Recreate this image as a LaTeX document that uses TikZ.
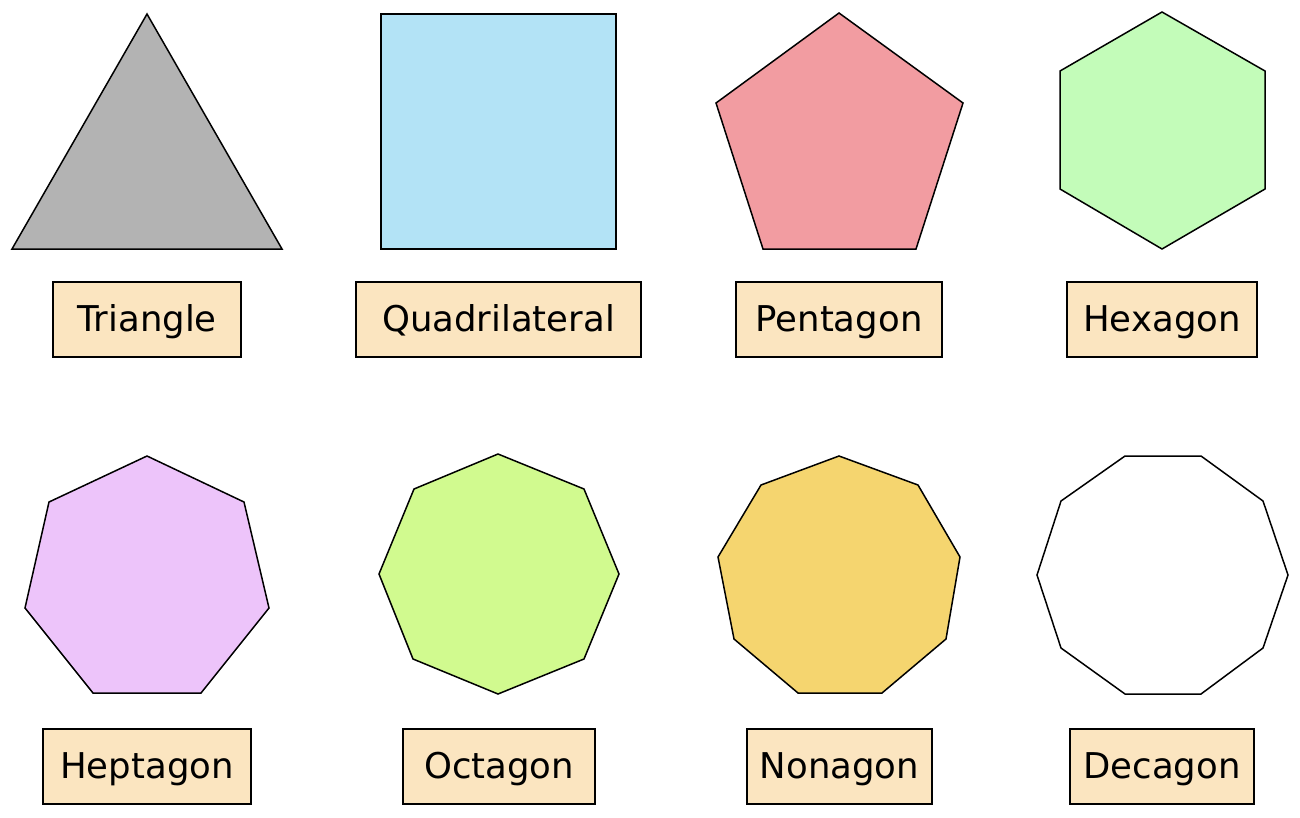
\documentclass[tikz,border=0pt]{standalone}
\usepackage{fontspec}
\setmainfont{DejaVu Sans}
\definecolor{cgray}{HTML}{B3B3B3}
\definecolor{cblue}{HTML}{B3E3F6}
\definecolor{cpink}{HTML}{F29CA1}
\definecolor{cgreen}{HTML}{C3FCB9}
\definecolor{clav}{HTML}{EDC4FA}
\definecolor{clime}{HTML}{D1FA8F}
\definecolor{cyel}{HTML}{F5D56F}
\definecolor{clab}{HTML}{FBE5C0}
\begin{document}
\begin{tikzpicture}[x=1pt,y=-1pt,
  shp/.style={draw=black,line width=1.5pt,line join=miter},
  lab/.style={draw=black,line width=1.5pt,fill=clab,inner sep=0pt,
    text height=24pt,text depth=0pt,minimum height=75pt,
    font=\fontsize{35.5}{40}\selectfont,anchor=center}]
\useasboundingbox (0,0) rectangle (1300,817);
% row 1 shapes
\draw[shp,fill=cgray] (147,14) -- (282,249) -- (12,249) -- cycle;
\draw[shp,fill=cblue] (381,14) rectangle (616,249);
\draw[shp,fill=cpink] (839,13) -- (963,103) -- (916,249) -- (763,249) -- (716,103) -- cycle;
\draw[shp,fill=cgreen] (1162,12) -- (1265,71) -- (1265,189) -- (1162,249) -- (1060,189) -- (1060,71) -- cycle;
% row 2 shapes
\draw[shp,fill=clav] (147,456) -- (244,502) -- (269,608) -- (201,693) -- (93,693) -- (25,608) -- (49,502) -- cycle;
\draw[shp,fill=clime] (498,454) -- (584,489) -- (619,574) -- (584,659) -- (498,694) -- (413,659) -- (379,574) -- (414,489) -- cycle;
\draw[shp,fill=cyel] (839,456) -- (918,485) -- (960,557) -- (946,639) -- (882,693) -- (798,693) -- (734,639) -- (718,557) -- (761,485) -- cycle;
\draw[shp,fill=white] (1125,456) -- (1201,456) -- (1263,501) -- (1288,575) -- (1263,648) -- (1201,694) -- (1125,694) -- (1061,648) -- (1037,575) -- (1061,501) -- cycle;
% labels
\node[lab,minimum width=188pt] (ltri) at (147,319.5) {Triangle};
\node[lab,minimum width=285pt] (lquad) at (498.5,319.5) {Quadrilateral};
\node[lab,minimum width=206pt] (lpent) at (839,319.5) {Pentagon};
\node[lab,minimum width=190pt] (lhex) at (1162,319.5) {Hexagon};
\node[lab,minimum width=208pt] (lhept) at (147,766.5) {Heptagon};
\node[lab,minimum width=192pt] (loct) at (499,766.5) {Octagon};
\node[lab,minimum width=185pt] (lnon) at (839.5,766.5) {Nonagon};
\node[lab,minimum width=184pt] (ldec) at (1162,766.5) {Decagon};
\end{tikzpicture}
\end{document}
